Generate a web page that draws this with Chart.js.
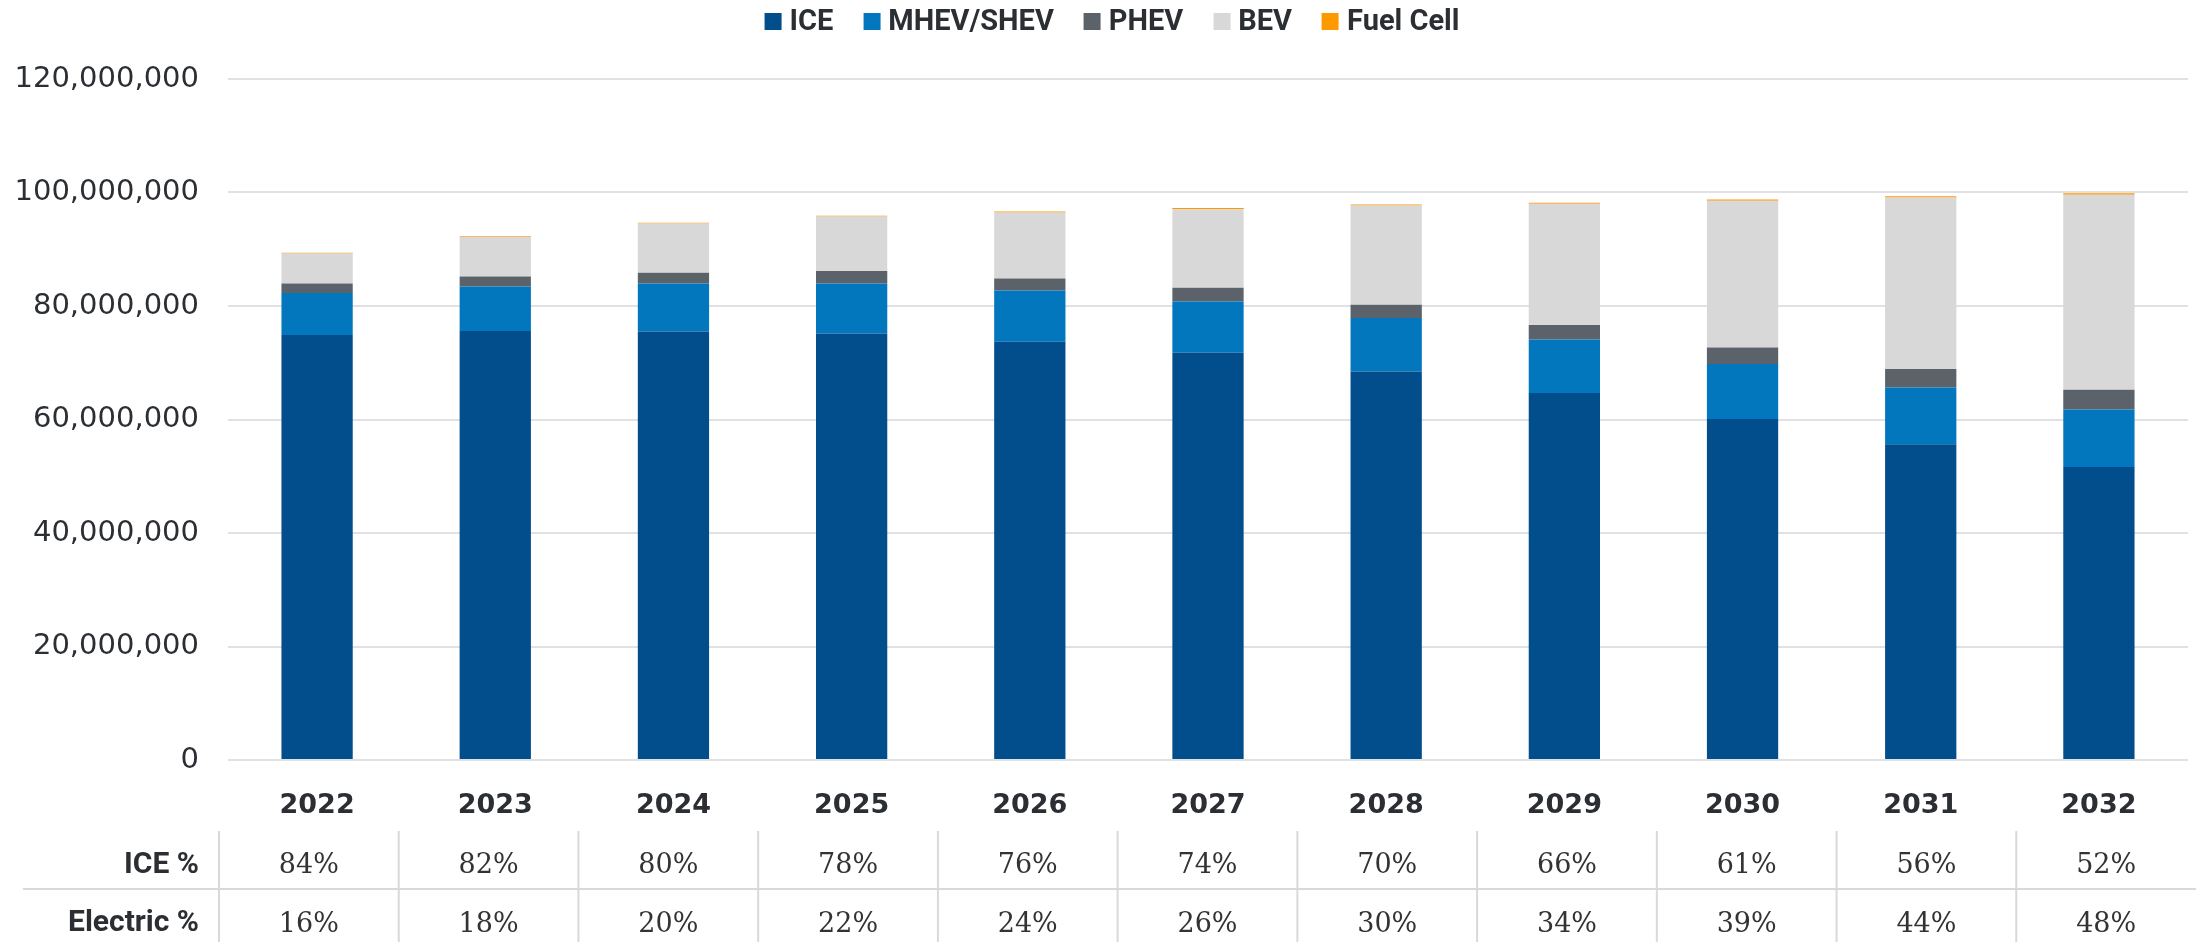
<!DOCTYPE html>
<html>
<head>
<meta charset="utf-8">
<title>Vehicle sales by powertrain</title>
<script src="https://cdn.jsdelivr.net/npm/chart.js@4"></script>
<style>
  html, body { margin: 0; padding: 0; background: #fff; }
  .wrap { position: relative; width: 2196px; height: 942px; }
  #legend {
    position: absolute; top: 6px; left: 1112px; transform: translateX(-50%);
    display: flex; gap: 30px; white-space: nowrap;
    font: bold 29px Roboto, "Liberation Sans", sans-serif; line-height: 29px; color: #2b2e33;
  }
  .legend-item { display: flex; align-items: center; }
  .legend-box { width: 17px; height: 17px; margin-right: 8px; position: relative; top: 1px; }
</style>
</head>
<body>
<div class="wrap">
  <canvas id="salesChart" width="2196" height="942"></canvas>
  <div id="legend"></div>
</div>
<script>
// -----------------------------------------------------------------
// DATA
// -----------------------------------------------------------------
const years = ["2022", "2023", "2024", "2025", "2026", "2027", "2028", "2029", "2030", "2031", "2032"];

const iceUnits      = [74870000, 75580000, 75510000, 75150000, 73690000, 71810000, 68460000, 64650000, 60070000, 55660000, 51610000];
const hybridUnits   = [ 7400000,  7860000,  8450000,  8810000,  9040000,  8980000,  9410000,  9450000,  9690000,  9980000, 10150000];
const phevUnits     = [ 1690000,  1760000,  1890000,  2190000,  2120000,  2420000,  2340000,  2530000,  2930000,  3240000,  3470000];
const bevUnits      = [ 5290000,  6990000,  8690000,  9620000, 11620000, 13860000, 17500000, 21380000, 25850000, 30240000, 34370000];
const fuelCellUnits = [  150000,   150000,   150000,   150000,   180000,   180000,   180000,   200000,   220000,   220000,   250000];

const icePct      = ["84%", "82%", "80%", "78%", "76%", "74%", "70%", "66%", "61%", "56%", "52%"];
const electricPct = ["16%", "18%", "20%", "22%", "24%", "26%", "30%", "34%", "39%", "44%", "48%"];

const yTicks = [0, 20000000, 40000000, 60000000, 80000000, 100000000, 120000000];

// -----------------------------------------------------------------
// STYLE
// -----------------------------------------------------------------
const COLORS = {
  ice:      "#024E8C",
  hybrid:   "#0377BD",
  phev:     "#5B626A",
  bev:      "#D8D8D8",
  fuelCell: "#FF9900",
};
const TEXT = "#2b2e33";
const LINE = "#d9d9d9";

const series = [
  { label: "ICE",       data: iceUnits,      color: COLORS.ice },
  { label: "MHEV/SHEV", data: hybridUnits,   color: COLORS.hybrid },
  { label: "PHEV",      data: phevUnits,     color: COLORS.phev },
  { label: "BEV",       data: bevUnits,      color: COLORS.bev },
  { label: "Fuel Cell", data: fuelCellUnits, color: COLORS.fuelCell },
];

// ICE % / Electric % table under the axis
const shareTable = {
  id: "shareTable",
  afterDraw(chart) {
    const { ctx, width } = chart;
    const left = 219;
    const colW = (width - left) / years.length;

    ctx.save();
    ctx.strokeStyle = LINE;
    ctx.lineWidth = 2;
    ctx.beginPath();
    for (let k = 0; k < years.length; k++) {
      const x = left + k * colW;
      ctx.moveTo(x, 831);
      ctx.lineTo(x, 942);
    }
    ctx.moveTo(23, 889);
    ctx.lineTo(width, 889);
    ctx.stroke();

    ctx.fillStyle = TEXT;
    ctx.font = "bold 30px Roboto, 'Liberation Sans', sans-serif";
    ctx.textAlign = "right";
    ctx.textBaseline = "alphabetic";
    ctx.fillText("ICE %", 199, 873);
    ctx.fillText("Electric %", 199, 931);

    ctx.fillStyle = "#333333";
    ctx.font = "27px 'DejaVu Serif', serif";
    ctx.textAlign = "center";
    years.forEach((_, k) => {
      const cx = left + (k + 0.5) * colW;
      ctx.fillText(icePct[k], cx, 873);
      ctx.fillText(electricPct[k], cx, 932);
    });
    ctx.restore();
  },
};

new Chart(document.getElementById("salesChart").getContext("2d"), {
  type: "bar",
  data: {
    labels: years,
    datasets: series.map((s) => ({
      label:              s.label,
      data:               s.data,
      backgroundColor:    s.color,
      borderWidth:        0,
      categoryPercentage: 0.8,
      barPercentage:      0.5,
    })),
  },
  options: {
    responsive: false,
    animation:  false,
    layout: { padding: { top: 79, right: 8, bottom: 128, left: 0 } },
    plugins: {
      legend:  { display: false },
      tooltip: { enabled: false },
    },
    scales: {
      x: {
        stacked: true,
        afterFit: (scale) => { scale.height = 54; },
        grid:    { display: false },
        border:  { display: false },
        ticks: {
          color: TEXT,
          padding: 22,
          maxRotation: 0,
          font: { family: "'DejaVu Sans', sans-serif", size: 27, weight: "bold" },
        },
      },
      y: {
        stacked: true,
        min: 0,
        max: yTicks[yTicks.length - 1],
        afterBuildTicks: (scale) => { scale.ticks = yTicks.map((v) => ({ value: v })); },
        afterFit: (scale) => { scale.width = 228; },
        grid:   { color: "#dfe1e4", lineWidth: 2, drawTicks: false },
        border: { display: false },
        ticks: {
          color: TEXT,
          padding: 29,
          font: { family: "'DejaVu Sans', sans-serif", size: 29 },
          callback: (v) => Number(v).toLocaleString("en-US"),
        },
      },
    },
  },
  plugins: [shareTable],
});

// HTML legend
document.getElementById("legend").innerHTML = series.map((s) => `
  <span class="legend-item">
    <span class="legend-box" style="background:${s.color}"></span>${s.label}
  </span>`).join("");
</script>
</body>
</html>
